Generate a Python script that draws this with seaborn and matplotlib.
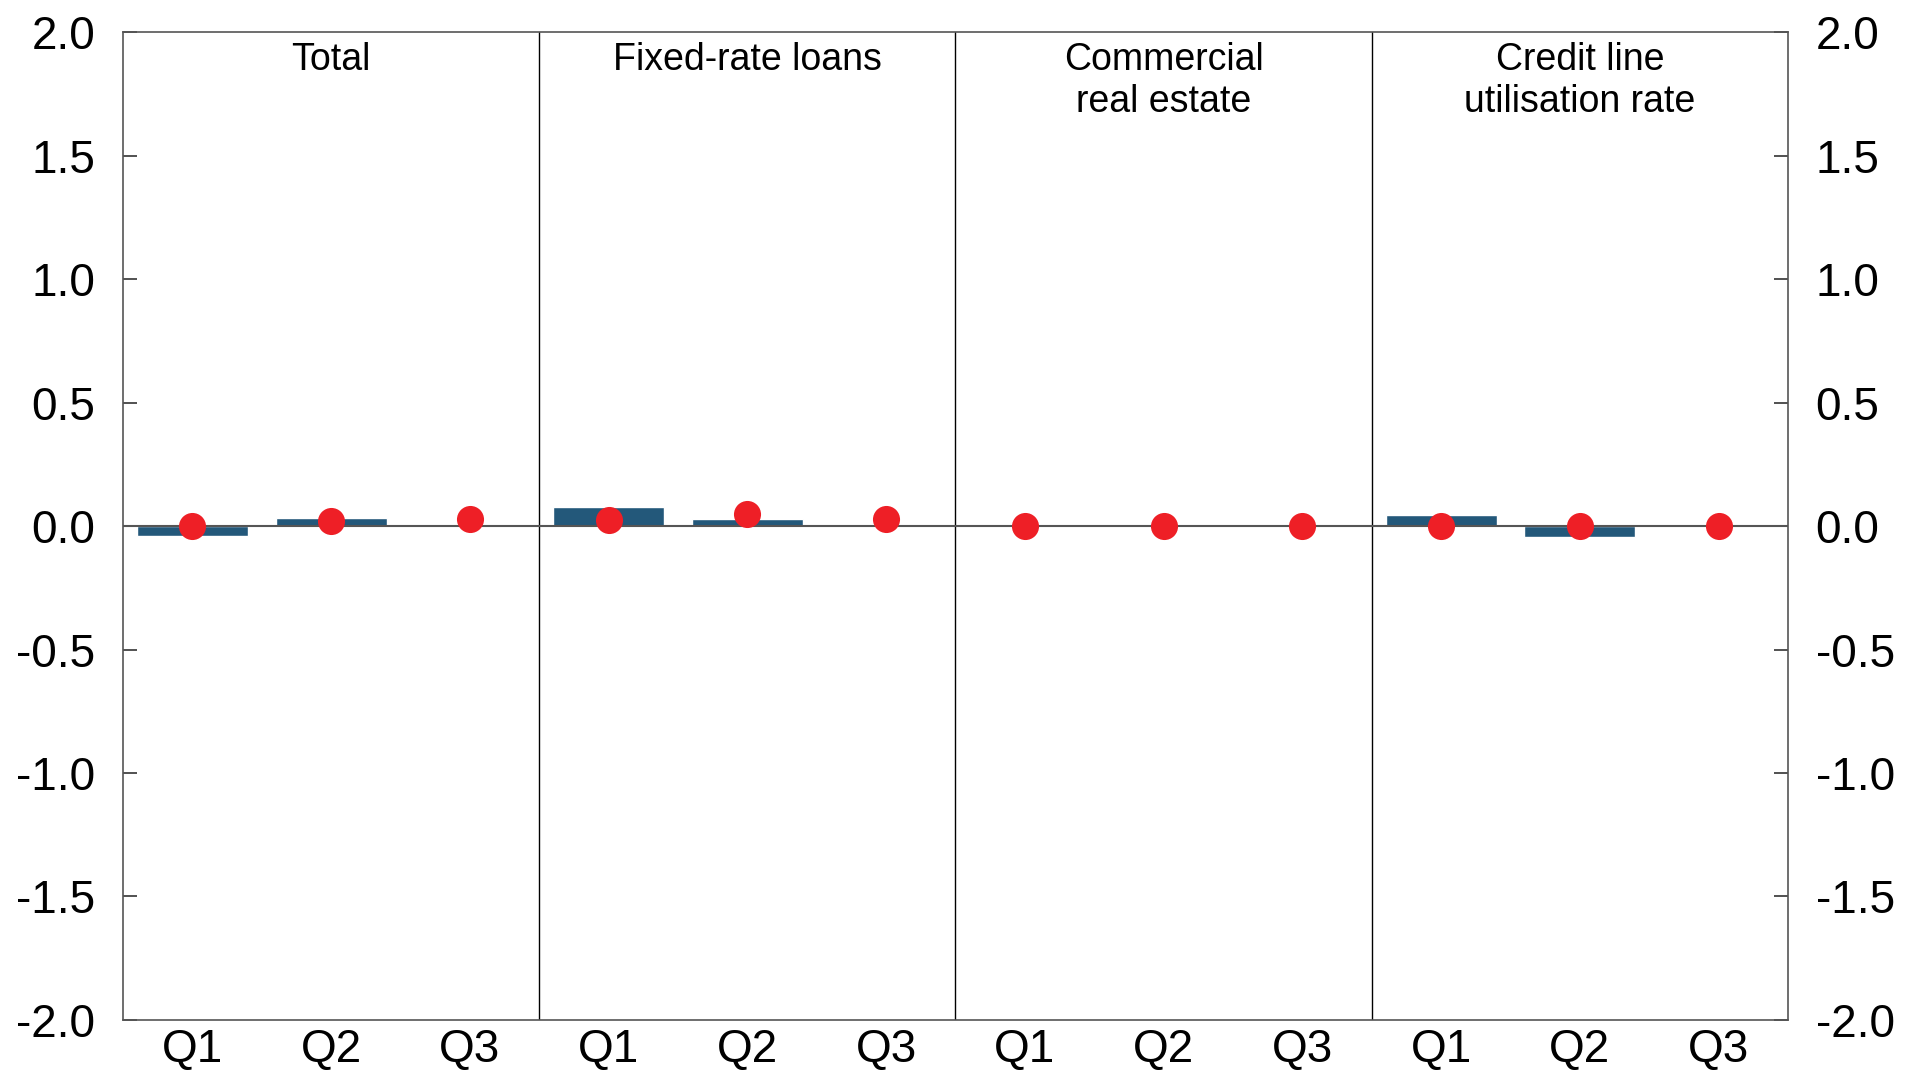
import numpy as np
import pandas as pd
import matplotlib
matplotlib.use('Agg')
import matplotlib.pyplot as plt
import seaborn as sns

sns.set_style("white")
plt.rcParams['font.family'] = ['Liberation Sans', 'DejaVu Sans']
plt.rcParams['axes.unicode_minus'] = False
plt.rcParams['text.color'] = 'black'
plt.rcParams['xtick.color'] = 'black'
plt.rcParams['ytick.color'] = 'black'

# data
panels = ["Total", "Fixed-rate loans", "Commercial\nreal estate", "Credit line\nutilisation rate"]
quarters = ["Q1", "Q2", "Q3"]
bar_values = [-0.04, 0.032, np.nan,
              0.077, 0.027, np.nan,
              np.nan, np.nan, np.nan,
              0.046, -0.044, np.nan]
dot_values = [0.0, 0.02, 0.03,
              0.026, 0.047, 0.03,
              0.0, 0.0, 0.0,
              0.0, 0.0, 0.0]
y_ticks = [-2.0, -1.5, -1.0, -0.5, 0.0, 0.5, 1.0, 1.5, 2.0]

BAR_COLOR = "#23587a"
DOT_COLOR = "#ee1f26"

keys = ["{}|{}".format(p, q) for p in panels for q in quarters]
df = pd.DataFrame({"key": keys,
                   "quarter": [q for p in panels for q in quarters],
                   "bar": bar_values,
                   "dot": dot_values})

fig = plt.figure(figsize=(19.19, 10.75), dpi=100)
ax = fig.add_axes([0.0641, 0.0512, 0.8676, 0.9188])

sns.barplot(data=df, x="key", y="bar", order=keys, color=BAR_COLOR, width=0.8,
            saturation=1, errorbar=None, ax=ax)
sns.stripplot(data=df, x="key", y="dot", order=keys, color=DOT_COLOR, size=19.5,
              jitter=False, linewidth=0, ax=ax, zorder=5)

ax.axhline(0, color="#555555", lw=1.5, zorder=3)
for i in range(1, len(panels)):
    ax.axvline(i * len(quarters) - 0.5, color="black", lw=1)
for i, p in enumerate(panels):
    ax.text(i * len(quarters) + 1, 1.96, p, ha="center", va="top", fontsize=27,
            linespacing=1.2)

ax.set_xlim(-0.5, len(keys) - 0.5)
ax.set_ylim(-2, 2)
ax.set_yticks(y_ticks)
ax.set_yticklabels(["{:.1f}".format(t) for t in y_ticks])
ax.set_xticks(range(len(keys)))
ax.set_xticklabels(df["quarter"])
ax.set_xlabel("")
ax.set_ylabel("")
ax.tick_params(axis="x", length=0, pad=6, labelsize=33)
ax.tick_params(axis="y", direction="in", length=10, width=1.2, pad=20, labelsize=33,
               left=True, right=True, labelleft=True, labelright=True, color="#333333")
for s in ax.spines.values():
    s.set_color("#555555")
    s.set_linewidth(1.2)

plt.savefig("out.png", dpi=100)
plt.close()
